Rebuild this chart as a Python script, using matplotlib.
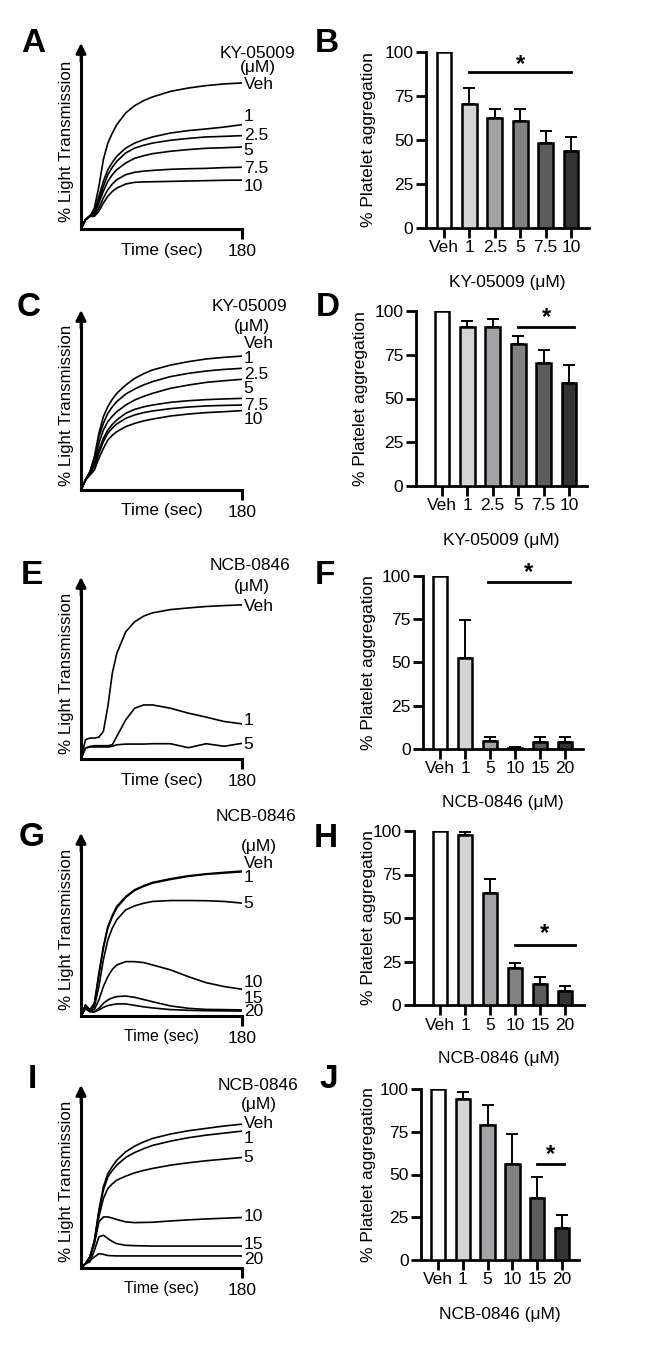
import matplotlib.pyplot as plt

plt.rcParams['font.family'] = ['Liberation Sans', 'DejaVu Sans']

W, H = 664, 1357

# aggregation traces, % light transmission
time_s = [0, 5, 10, 15, 20, 25, 30, 35, 40, 50, 60, 70, 80, 100, 120, 140, 160, 180]

ky_labels = ['Veh', '1', '2.5', '5', '7.5', '10']
ncb_labels_e = ['Veh', '1', '5']
ncb_labels = ['Veh', '1', '5', '10', '15', '20']

trace_a = [
    [0, 5, 6.8, 11.3, 22.9, 37.3, 46.2, 51.5, 56.1, 62.4, 66.3, 69, 71, 74, 75.8, 77.1, 78, 78.5],
    [0, 5, 7.2, 9.5, 17.6, 25.6, 31.9, 35.8, 39.1, 43.5, 46.2, 48, 49.5, 51.6, 52.9, 53.8, 54.8, 56.1],
    [0, 5, 7.2, 8.6, 15.8, 22.9, 29.2, 33.2, 36.4, 40.9, 43.5, 45, 46.2, 47.7, 48.7, 49.5, 49.8, 50.2],
    [0, 5, 7.0, 7.7, 14, 20.3, 25.6, 29.2, 31.9, 35.5, 38, 39.4, 40.5, 41.8, 42.7, 43.4, 43.7, 44.1],
    [0, 5, 6.9, 7.2, 11.3, 16.7, 21.1, 24.2, 26.5, 29.2, 30.5, 31.1, 31.5, 32.1, 32.4, 32.6, 33, 33.2],
    [0, 5, 6.8, 6.8, 9.5, 14, 17.6, 20.2, 22, 24.2, 25.1, 25.3, 25.4, 25.6, 25.8, 26, 26.2, 26.3],
]
trace_c = [
    [0, 5.6, 10.2, 18.5, 31.5, 40.7, 46.3, 50.4, 53.7, 58.3, 62, 64.6, 66.7, 69.4, 71.3, 72.8, 73.7, 74.4],
    [0, 5.6, 10.2, 17.6, 29.6, 37, 42.6, 46.2, 49.1, 53.3, 56.1, 58.4, 60.2, 63, 64.8, 66.1, 67, 67.6],
    [0, 5.6, 9.5, 15.7, 25.9, 33.3, 38, 41, 43.5, 47.2, 50, 52, 53.7, 56.5, 58.3, 59.8, 60.7, 61.5],
    [0, 5.6, 9.0, 13.9, 22.2, 28.7, 33.3, 36.4, 38.9, 42.6, 44.8, 46.2, 47.2, 48.7, 49.6, 50.2, 50.6, 50.9],
    [0, 5.6, 8.8, 13, 20.4, 26.9, 31.5, 34.4, 36.7, 39.8, 41.7, 43, 43.9, 45.2, 46.1, 46.7, 47, 47.2],
    [0, 5.6, 8.3, 11.1, 17.6, 23.1, 27.8, 30.4, 32.4, 35.2, 37, 38.4, 39.4, 41.1, 42.2, 43, 43.5, 44.1],
]
trace_e = [
    [0, 10.6, 11.5, 11.5, 12, 15.1, 28.8, 47.1, 58, 69.9, 75.4, 78.5, 80.3, 82.1, 83, 83.8, 84.3, 84.7],
    [0, 6, 6.9, 7.3, 7.3, 7.3, 7.3, 7.8, 12.4, 21.5, 27.9, 29.7, 29.7, 27.9, 25.2, 23, 20.6, 19.3],
    [0, 6, 6.6, 6.6, 6.6, 6.6, 6.6, 7.0, 7.8, 8.2, 8.2, 8.2, 8.4, 8.4, 6.2, 8.4, 7.0, 8.6],
]
trace_g = [
    [0, 6, 3.3, 6.9, 23.4, 38, 48.9, 55, 59.9, 65.3, 69, 71.2, 73, 75, 76.6, 77.7, 78.5, 79.2],
    [0, 6, 3.3, 6.9, 22.4, 37, 48, 54.2, 59.1, 64.8, 68.6, 70.8, 72.6, 74.6, 76.3, 77.4, 78.1, 78.8],
    [0, 5.5, 3.0, 5.1, 16.1, 30.7, 41.6, 48, 52.6, 58, 60.2, 61.6, 62.6, 63.1, 63.1, 63, 62.6, 61.7],
    [0, 5, 2.8, 3.6, 8.8, 16.1, 21.5, 25.5, 27.9, 29.7, 29.7, 29.2, 27.9, 25.2, 21.5, 18.2, 16.1, 14.6],
    [0, 4.5, 2.5, 2.4, 4.2, 6.9, 8.8, 9.9, 10.6, 10.9, 10.2, 9, 7.8, 5.5, 4.2, 3.6, 3.5, 3.3],
    [0, 4, 2.3, 2.2, 3.3, 4.7, 5.7, 6.2, 6.6, 6.6, 5.8, 5, 4.4, 3.5, 3.1, 2.9, 2.8, 2.7],
]
trace_i = [
    [0, 2.4, 6, 15.1, 31.6, 44.3, 51.6, 55.5, 58.9, 63.5, 66.6, 68.9, 70.8, 73.2, 75, 76.3, 77.6, 78.6],
    [0, 2.4, 6, 14.8, 30.7, 42.5, 49.8, 53.3, 56.2, 60.4, 63.1, 65.2, 67, 69.3, 71.2, 72.6, 73.7, 74.8],
    [0, 2.4, 6, 14.2, 27.9, 38, 43.4, 46, 48, 50.2, 52, 53.3, 54.4, 56.2, 57.5, 58.6, 59.5, 60.4],
    [0, 2.4, 6, 13.3, 25.2, 27.9, 27.9, 27.3, 26.5, 25.2, 24.8, 24.9, 25, 25.7, 26.3, 26.8, 27.2, 27.6],
    [0, 2.4, 3.3, 9.7, 17, 17.9, 16.1, 14.5, 13.3, 12.4, 12.2, 12.1, 12, 12, 12, 12, 12, 12],
    [0, 2.4, 4.2, 6, 7.8, 7.5, 6.8, 6.7, 6.6, 6.6, 6.6, 6.6, 6.6, 6.6, 6.6, 6.6, 6.6, 6.6],
]

# bar charts: mean % platelet aggregation and upper SEM
ky_cats = ['Veh', '1', '2.5', '5', '7.5', '10']
ncb_cats = ['Veh', '1', '5', '10', '15', '20']

mean_b = [100, 70.5, 62.3, 60.6, 48.3, 43.8]
err_b = [0, 9.3, 5.3, 7.0, 6.6, 7.9]
mean_d = [100, 90.7, 90.7, 81.1, 70.3, 58.7]
err_d = [0, 3.8, 4.7, 4.4, 7.2, 10.6]
mean_f = [100, 52.4, 4.6, 0.8, 4.0, 4.0]
err_f = [0, 22.2, 2.5, 0.3, 3.1, 3.1]
mean_h = [100, 97.7, 64.6, 21.5, 11.9, 7.9]
err_h = [0, 1.7, 7.6, 2.6, 4.0, 3.0]
mean_j = [100, 94.3, 78.9, 56.4, 36.5, 18.8]
err_j = [0, 3.7, 11.5, 17.2, 12.1, 7.6]

bar_colors = ['#ffffff', '#d4d4d4', '#a2a2a7', '#818181', '#5c5c5c', '#333333']

fig = plt.figure(figsize=(W / 100, H / 100), dpi=100)


def px_rect(x0, x1, y_top, y_bot):
    return [x0 / W, 1 - y_bot / H, (x1 - x0) / W, (y_bot - y_top) / H]


def ftext(x, y, s, **kw):
    fig.text(x / W, 1 - y / H, s, **kw)


def trace_panel(y_top, y_bot, traces, labels, label_y, drug, head, time_fs=12.5):
    ax = fig.add_axes(px_rect(81, 242, y_top, y_bot))
    for tr in traces:
        ax.plot(time_s, tr, color='black', lw=1.2)
    ax.set_xlim(0, 180)
    ax.set_ylim(0, 100)
    ax.spines[['top', 'right']].set_visible(False)
    ax.spines['left'].set_linewidth(2.2)
    ax.spines['left'].set_bounds(0, 95)
    ax.spines['bottom'].set_linewidth(2.2)
    ax.set_yticks([])
    ax.set_xticks([180], ['180'])
    ax.tick_params(axis='x', length=7.5, width=2.2, pad=3, labelsize=12.5)
    ax.annotate('', xy=(0, 1.0), xytext=(0, 0.9), xycoords='axes fraction',
                arrowprops=dict(arrowstyle='-|>', color='black', lw=2.0,
                                mutation_scale=15, shrinkA=0, shrinkB=0))
    for lab, y in zip(labels, label_y):
        ax.text(182, y, lab, fontsize=12.5, ha='left', va='center', clip_on=False)
    ax.text(head[0], head[1], drug, fontsize=12.5, ha='right', va='center', clip_on=False)
    ax.text(head[2], head[3], '(μM)', fontsize=12.5, ha='center', va='center', clip_on=False)
    ftext(161.5, y_bot + 21, 'Time (sec)', fontsize=time_fs, ha='center', va='center')
    ftext(67, (y_top + y_bot) / 2 + 5, '% Light Transmission', fontsize=12.2,
          rotation=90, ha='center', va='center')
    return ax


def bar_panel(box, xlim, cats, means, errs, sig, drug, ylab_x=369):
    x0, x1, y_top, y_bot = box
    ax = fig.add_axes(px_rect(x0, x1, y_top, y_bot))
    pos = list(range(len(cats)))
    ax.bar(pos, means, width=0.58, color=bar_colors, edgecolor='black', linewidth=1.8, zorder=3)
    ax.errorbar(pos, means, yerr=[[0] * len(errs), errs], fmt='none', ecolor='black',
                elinewidth=1.4, capsize=4, capthick=1.4, zorder=2)
    ax.set_xlim(*xlim)
    ax.set_ylim(0, 100)
    ax.spines[['top', 'right']].set_visible(False)
    ax.spines['left'].set_linewidth(2.0)
    ax.spines['bottom'].set_linewidth(2.0)
    ax.set_xticks(pos, cats)
    ax.set_yticks([0, 25, 50, 75, 100])
    ax.tick_params(axis='both', length=7, width=2.0, labelsize=12.5, pad=2)
    xs, xe, yl, xstar, ystar = sig
    ax.plot([xs, xe], [yl, yl], color='black', lw=2.0, clip_on=False)
    ax.text(xstar, ystar, '*', fontsize=17, fontweight='bold', ha='center', va='center', clip_on=False)
    ftext((x0 + x1) / 2, y_bot + 54, drug + ' (μM)', fontsize=12.5, ha='center', va='center')
    ftext(ylab_x, (y_top + y_bot) / 2, '% Platelet aggregation', fontsize=12.5,
          rotation=90, ha='center', va='center')
    return ax


trace_panel(43, 229, trace_a, ky_labels, [77.6, 60.6, 50.2, 42.3, 32.3, 22.9],
            'KY-05009', (239, 94.6, 198, 86.6))
trace_panel(310, 490, trace_c, ky_labels, [81.5, 73.1, 63.9, 56.5, 47.2, 38.9],
            'KY-05009', (231, 101.9, 191, 90.7))
trace_panel(577, 759, trace_e, ncb_labels_e, [83.6, 21.2, 7.8],
            'NCB-0846', (234, 106.4, 191, 94.9))
trace_panel(833, 1016, trace_g, ncb_labels, [83.6, 75.9, 61.7, 18.2, 9.7, 2.4],
            'NCB-0846', (241, 109, 199, 92.7), time_fs=11.5)
trace_panel(1085, 1268, trace_i, ncb_labels, [79, 70.8, 60.4, 27.9, 13, 4.6],
            'NCB-0846', (243, 100, 199, 89.4), time_fs=11.5)

bar_panel((426, 589, 52, 228), (-0.71, 5.71), ky_cats, mean_b, err_b,
          (1, 5, 88.5, 3.0, 93), 'KY-05009')
bar_panel((416, 587, 311, 486), (-1.02, 5.71), ky_cats, mean_d, err_d,
          (3, 5.2, 90.7, 4.1, 96), 'KY-05009', ylab_x=361)
bar_panel((423, 583, 576, 749), (-0.68, 5.72), ncb_cats, mean_f, err_f,
          (1.92, 5.2, 96.7, 3.56, 102), 'NCB-0846')
bar_panel((414, 584, 831, 1005), (-1.04, 5.76), ncb_cats, mean_h, err_h,
          (3, 5.4, 34.5, 4.2, 41), 'NCB-0846')
bar_panel((421, 579, 1089, 1260), (-0.69, 5.69), ncb_cats, mean_j, err_j,
          (4, 5.1, 56, 4.55, 61.5), 'NCB-0846')

# panel letters
letters = ['A', 'B', 'C', 'D', 'E', 'F', 'G', 'H', 'I', 'J']
letter_xy = [(33, 44), (327, 43), (29, 308), (328, 307), (32, 575), (325, 575),
             (32, 837), (326, 838), (32, 1079), (329, 1080)]
for s, (x, y) in zip(letters, letter_xy):
    ftext(x, y, s, fontsize=24, fontweight='bold', ha='center', va='center')

fig.savefig('out.png', dpi=100, facecolor='white')
